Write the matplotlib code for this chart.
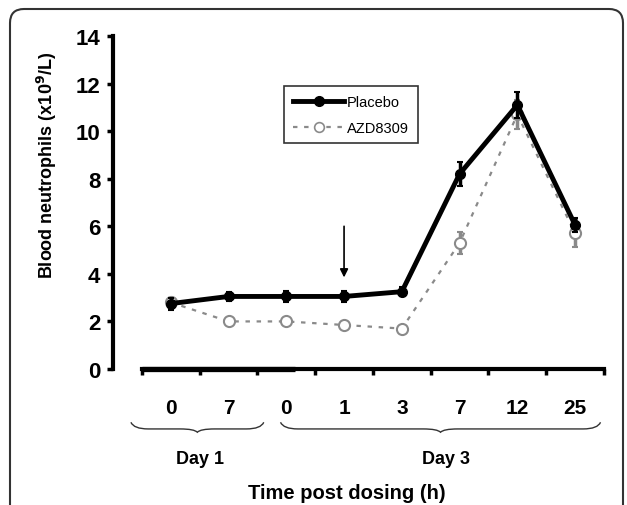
import matplotlib
matplotlib.use("Agg")
import matplotlib.pyplot as plt
from matplotlib.patches import FancyBboxPatch
from matplotlib.path import Path
from matplotlib.patches import PathPatch
from matplotlib.lines import Line2D
from matplotlib.transforms import IdentityTransform, blended_transform_factory

plt.rcParams['font.family'] = ['Liberation Sans', 'DejaVu Sans']

# Daten
zeitpunkte = ['0', '7', '0', '1', '3', '7', '12', '25']
placebo = [2.75, 3.05, 3.05, 3.05, 3.25, 8.2, 11.1, 6.05]
placebo_err = [0.25, 0.2, 0.25, 0.25, 0.2, 0.5, 0.55, 0.3]
azd = [2.8, 2.0, 2.0, 1.85, 1.7, 5.3, 10.7, 5.7]
azd_err = [0.2, 0.15, 0.15, 0.1, 0.1, 0.45, 0.6, 0.55]
tage = ['Day 1', 'Day 3']

fig = plt.figure(figsize=(6.27, 5.06), dpi=100)
ax = fig.add_axes([113 / 627, 136 / 506, 491 / 627, 333 / 506])

x = list(range(len(zeitpunkte)))

grau = '#8a8a8a'
# AZD8309 (grau, gepunktet)
ax.errorbar(x, azd, yerr=azd_err, color=grau, ls=(0, (2, 3)), lw=1.6,
            marker='o', ms=8, mfc='white', mec=grau, mew=1.5,
            ecolor=grau, elinewidth=2.5, capsize=2, capthick=1.5,
            zorder=3, clip_on=False)
# Placebo (schwarz)
ax.errorbar(x, placebo, yerr=placebo_err, color='black', lw=3.5,
            marker='o', ms=7, mfc='black', mec='black',
            ecolor='black', elinewidth=2.5, capsize=2, capthick=1.5,
            zorder=4, clip_on=False)

ax.set_xlim(-1, 7.5)
ax.set_ylim(0, 14)

for s in ['top', 'right']:
    ax.spines[s].set_visible(False)
ax.spines['left'].set_linewidth(3)
ax.spines['bottom'].set_linewidth(3)
ax.spines['bottom'].set_bounds(-0.5, 7.5)
ax.spines['left'].set_bounds(0, 14)
# etwas dickerer Abschnitt der x-Achse links
ax.plot([-0.5, 2.15], [0, 0], color='black', lw=3.8, clip_on=False, zorder=5,
        solid_capstyle='butt')

ax.set_yticks(range(0, 15, 2))
ax.tick_params(axis='y', length=4, width=2.5, pad=5, labelsize=16)
for lab in ax.get_yticklabels():
    lab.set_fontweight('bold')

ax.set_xticks([i - 0.5 for i in range(len(zeitpunkte) + 1)])
ax.set_xticklabels([])
ax.tick_params(axis='x', which='major', length=4, width=2.5)
ax.set_xticks(x, minor=True)
ax.set_xticklabels(zeitpunkte, minor=True, fontsize=15, fontweight='bold')
ax.tick_params(axis='x', which='minor', length=0, pad=21)

# Pfeil bei Dosierung
ax.annotate('', xy=(3, 3.85), xytext=(3, 6.0),
            arrowprops=dict(arrowstyle='-|>', color='black', lw=1.2,
                            mutation_scale=12, shrinkA=0, shrinkB=0))

griffe = [Line2D([], [], color='black', lw=3.5, marker='o', ms=7),
          Line2D([], [], color=grau, lw=1.6, ls=(0, (2, 3)), marker='o', ms=7,
                 mfc='white', mec=grau, mew=1.2)]
leg = ax.legend(griffe, ['Placebo', 'AZD8309'],
                loc='upper left', bbox_to_anchor=(164 / 491, 1 - 43 / 333),
                fontsize=10.5, frameon=True, fancybox=False, edgecolor='black',
                handlelength=3.5, borderpad=0.6, labelspacing=0.8,
                handletextpad=0.2)
leg.get_frame().set_linewidth(1.2)

# Klammern unter der Achse
trans = blended_transform_factory(ax.transData, ax.transAxes)


def klammer(x0, x1, y):
    m = (x0 + x1) / 2
    h = 0.02
    verts = [(x0, y + h), (x0 + 0.05, y), (x0 + 0.3, y),
             (m - 0.3, y), (m - 0.05, y), (m, y - h / 2),
             (m + 0.05, y), (m + 0.3, y),
             (x1 - 0.3, y), (x1 - 0.05, y), (x1, y + h)]
    codes = [Path.MOVETO, Path.CURVE3, Path.CURVE3,
             Path.LINETO, Path.CURVE3, Path.CURVE3,
             Path.CURVE3, Path.CURVE3,
             Path.LINETO, Path.CURVE3, Path.CURVE3]
    p = PathPatch(Path(verts, codes), transform=trans, fill=False,
                  lw=1.0, color='#333333', clip_on=False)
    ax.add_patch(p)


klammer(-0.69, 1.61, -0.18)
klammer(1.9, 7.44, -0.18)
ax.text(0.5, -0.27, tage[0], transform=trans, ha='center', va='center',
        fontsize=13, fontweight='bold')
ax.text(4.76, -0.27, tage[1], transform=trans, ha='center', va='center',
        fontsize=13, fontweight='bold')
ax.text(3.05, -0.37, 'Time post dosing (h)', transform=trans, ha='center',
        va='center', fontsize=14.5, fontweight='bold')

fig.text(47 / 627, 1 - 165 / 506, 'Blood neutrophils (x10$^{\\mathbf{9}}$/L)',
         rotation=90, ha='center', va='center', fontsize=13, fontweight='bold')

# abgerundeter Rahmen
rahmen = FancyBboxPatch((10, -30), 613, 526, boxstyle='round,pad=0,rounding_size=14',
                        transform=IdentityTransform(), fill=False,
                        edgecolor='#333333', lw=1.5)
fig.patches.append(rahmen)

fig.savefig('out.png', dpi=100)
